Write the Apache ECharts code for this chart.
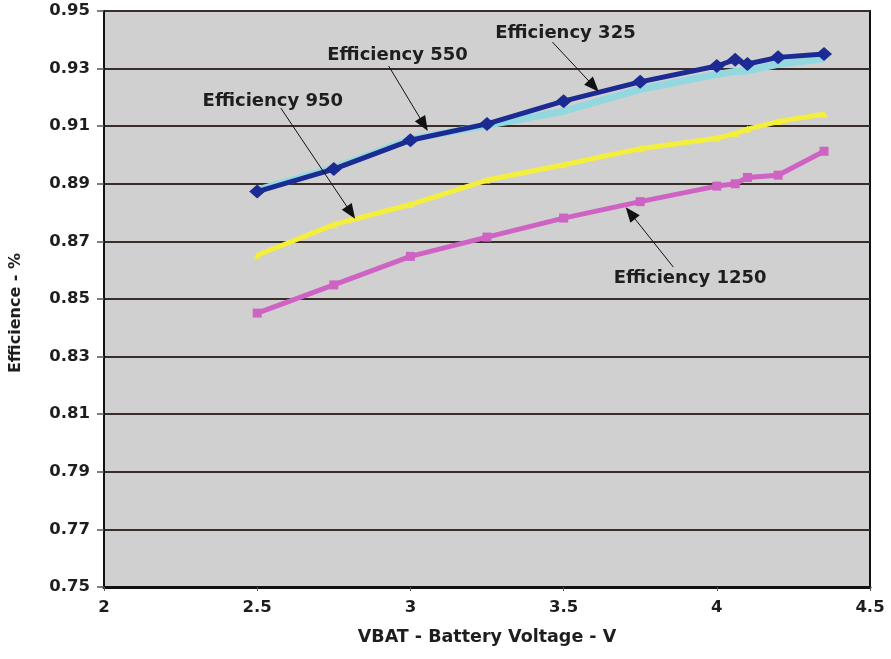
<!DOCTYPE html>
<html>
<head>
<meta charset="utf-8">
<script src="https://cdn.jsdelivr.net/npm/echarts@6/dist/echarts.min.js"></script>
<style>
html,body{margin:0;padding:0;background:#fff;}
#chart{width:891px;height:659px;}
</style>
</head>
<body>
<div id="chart"></div>
<script>
const vbat = [2.5, 2.75, 3.0, 3.25, 3.5, 3.75, 4.0, 4.06, 4.1, 4.2, 4.35];
const eff325  = [0.8873, 0.8951, 0.9051, 0.9108, 0.9187, 0.9254, 0.9309, 0.9331, 0.9316, 0.9339, 0.9351];
const eff550  = [0.8878, 0.8955, 0.9055, 0.9103, 0.9152, 0.9228, 0.9280, 0.9290, 0.9292, 0.9315, 0.9334];
const eff950  = [0.8652, 0.8758, 0.8828, 0.8913, 0.8966, 0.9022, 0.9058, 0.9075, 0.9090, 0.9116, 0.9142];
const eff1250 = [0.8451, 0.8549, 0.8648, 0.8715, 0.8781, 0.8838, 0.8892, 0.8900, 0.8922, 0.8930, 0.9013];

const xTitle = 'VBAT - Battery Voltage - V';
const yTitle = 'Efficience - %';

// annotations: label text, label position, arrow start, arrow end (data coords)
const annoText  = ['Efficiency 325', 'Efficiency 550', 'Efficiency 950', 'Efficiency 1250'];
const annoLabel = [[3.506, 0.9424], [2.958, 0.9347], [2.551, 0.9188], [3.913, 0.8573]];
const annoFrom  = [[3.4635, 0.9392], [2.929, 0.9309], [2.577, 0.9163], [3.858, 0.8611]];
const annoTo    = [[3.598, 0.9239], [3.044, 0.9106], [2.806, 0.8800], [3.718, 0.8798]];

const pair = (xs, ys) => xs.map((x, i) => [x, ys[i]]);
const FONT = '"DejaVu Sans", "Liberation Sans", Arial, sans-serif';

const chart = echarts.init(document.getElementById('chart'), null, {renderer: 'canvas'});
chart.setOption({
  animation: false,
  backgroundColor: '#ffffff',
  grid: {
    left: 103, right: 21, top: 11, bottom: 72,
    show: true, backgroundColor: '#d0d0d0', borderColor: '#111', borderWidth: 2
  },
  xAxis: {
    type: 'value', min: 2, max: 4.5, interval: 0.5,
    name: xTitle, nameLocation: 'middle', nameGap: 41,
    nameTextStyle: {fontFamily: FONT, fontWeight: 'bold', fontSize: 17.5, color: '#1e1e1e'},
    axisLine: {show: true, lineStyle: {color: '#111', width: 3}},
    axisTick: {show: true, length: 4, lineStyle: {color: '#555'}},
    axisLabel: {fontFamily: FONT, fontWeight: 'bold', fontSize: 16.5, color: '#1e1e1e', margin: 12},
    splitLine: {show: false}
  },
  yAxis: {
    type: 'value', min: 0.75, max: 0.95, interval: 0.02,
    name: yTitle, nameLocation: 'middle', nameGap: 80, nameRotate: 90,
    nameTextStyle: {fontFamily: FONT, fontWeight: 'bold', fontSize: 16, color: '#1e1e1e',
      padding: [0, 28, 0, 0]},
    axisLine: {show: true, lineStyle: {color: '#111', width: 2}},
    axisTick: {show: true, length: 7, lineStyle: {color: '#555', width: 1.5}},
    axisLabel: {fontFamily: FONT, fontWeight: 'bold', fontSize: 16.5, color: '#1e1e1e', margin: 14,
      formatter: v => v.toFixed(2)},
    splitLine: {show: true, lineStyle: {color: '#3a2e2a', width: 2}}
  },
  series: [
    {name: 'Efficiency 550', type: 'line', data: pair(vbat, eff550), z: 2,
     lineStyle: {color: '#92d8de', width: 7}, itemStyle: {color: '#92d8de'},
     symbol: 'none'},
    {name: 'Efficiency 325', type: 'line', data: pair(vbat, eff325), z: 3,
     lineStyle: {color: '#1c2a94', width: 5}, itemStyle: {color: '#1c2a94'},
     symbol: 'diamond', symbolSize: [16, 14]},
    {name: 'Efficiency 950', type: 'line', data: pair(vbat, eff950), z: 2,
     lineStyle: {color: '#f4ee3c', width: 5}, itemStyle: {color: '#f4ee3c'},
     symbol: 'triangle', symbolSize: 7},
    {name: 'Efficiency 1250', type: 'line', data: pair(vbat, eff1250), z: 2,
     lineStyle: {color: '#cf63c4', width: 5}, itemStyle: {color: '#cf63c4'},
     symbol: 'rect', symbolSize: 9},
    {name: 'annotations', type: 'line', data: [], z: 5, silent: true,
     markLine: {
       silent: true, animation: false,
       symbol: ['none', 'triangle'], symbolSize: [12, 15],
       lineStyle: {color: '#111', width: 1, type: 'solid'},
       label: {show: false},
       data: annoFrom.map((f, i) => [{coord: f}, {coord: annoTo[i]}])
     },
     markPoint: {
       silent: true, animation: false,
       symbol: 'rect', symbolSize: 1, itemStyle: {color: 'rgba(0,0,0,0)'},
       label: {show: true, position: 'inside', fontFamily: FONT, fontWeight: 'bold', fontSize: 18, color: '#1e1e1e',
               formatter: p => p.name},
       data: annoText.map((t, i) => ({name: t, coord: annoLabel[i]}))
     }
    }
  ]
});
</script>
</body>
</html>
